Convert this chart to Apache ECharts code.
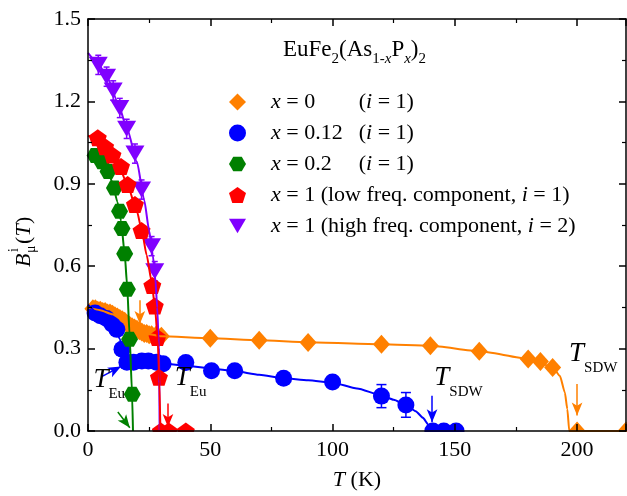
<!DOCTYPE html>
<html>
<head>
<meta charset="utf-8">
<script src="https://cdn.jsdelivr.net/npm/echarts@6/dist/echarts.min.js"></script>
<style>
html,body{margin:0;padding:0;background:#fff}
#chart{width:627px;height:496px}
</style>
</head>
<body>
<div id="chart"></div>
<script>
// x = 0
var orangeT = [2,3,4,5,6,7,8,9,10,11,12,13,14,15,16,17,18,19,20,21,22,23,24,25,26,28,30,50,70,90,120,140,160,180,185,190,200,220];
var orangeB = [0.445,0.445,0.44,0.44,0.435,0.435,0.43,0.43,0.425,0.42,0.415,0.41,0.405,0.4,0.39,0.385,0.38,0.375,0.37,0.365,0.36,0.355,0.355,0.35,0.35,0.35,0.345,0.338,0.33,0.322,0.316,0.31,0.29,0.262,0.253,0.231,0,0];
var orangeFitT = [0,5,10,15,20,25,30,50,70,90,120,140,160,180,190,193,195,196,196.8,220];
var orangeFitB = [0.45,0.44,0.425,0.398,0.37,0.352,0.345,0.338,0.33,0.323,0.316,0.31,0.29,0.263,0.233,0.2,0.14,0.08,0,0];
// x = 0.12
var blueT = [2.9,5,7.6,9.8,11.8,13.9,15.9,18.6,22,24.7,28,30.7,40,50.5,60,80,100,120,130,141,145.5,150.5];
var blueB = [0.43,0.42,0.41,0.39,0.37,0.298,0.25,0.25,0.255,0.255,0.25,0.245,0.249,0.219,0.219,0.192,0.178,0.127,0.095,0,0,0];
var blueErrT = [120,130];
var blueErrB = [0.127,0.095];
var blueErrD = [0.042,0.045];
var blueFitT = [0,4,8,11,13,14.5,16,20,30,40,50,60,70,80,90,100,110,120,125,130,134,137,139,140];
var blueFitB = [0.46,0.43,0.405,0.375,0.335,0.285,0.258,0.252,0.247,0.238,0.228,0.218,0.205,0.192,0.185,0.176,0.155,0.13,0.114,0.095,0.072,0.048,0.025,0];
// x = 0.2
var greenT = [2.9,5.6,8.2,10.8,12.9,13.9,15.0,16.1,17.0,18.1];
var greenB = [1.003,0.98,0.945,0.885,0.80,0.737,0.645,0.516,0.334,0.134];
var greenFitT = [2,4,6,8,10,12,13.5,15,16,17,18,18.4];
var greenFitB = [1.01,1.0,0.978,0.95,0.905,0.835,0.765,0.645,0.53,0.35,0.14,0];
// x = 1, high freq.
var purpleT = [4.2,7.6,10.3,13,15.8,19.2,21.9,26,27.3];
var purpleB = [1.333,1.29,1.24,1.176,1.1,1.01,0.879,0.673,0.582];
var purpleErrD = [0.035,0.035,0.035,0.035,0.035,0.035,0.035,0.035,0.035];
var purpleFitT = [0,4,8,12,16,20,23,25,26.5,27.5,28.3,29,29.3];
var purpleFitB = [1.377,1.34,1.285,1.2,1.1,0.98,0.84,0.73,0.64,0.56,0.45,0.3,0];
// x = 1, low freq.
var redT = [4,7,10,13.5,16.2,19.2,21.9,26.3,27.3,28.4,29,29.8,33,40];
var redB = [1.068,1.035,1.005,0.963,0.897,0.825,0.73,0.53,0.455,0.34,0.196,0,0,0];
var redFitT = [0,4,8,12,16,20,22,24,26,27.5,28.5,29.2,29.6];
var redFitB = [1.075,1.065,1.03,0.98,0.9,0.8,0.73,0.64,0.545,0.44,0.33,0.18,0];

// arrows [from, to] and labels in data coords
var orangeArrows = [[[21.2,0.476],[21.2,0.39]], [[200,0.171],[200,0.056]]];
var blueArrows = [[[6,0.2],[13.5,0.235]], [[140.7,0.128],[140.7,0.032]]];
var greenArrows = [[[12.2,0.069],[17.1,0.012]]];
var redArrows = [[[32.7,0.1],[32.7,0.015]]];
var labelPos = [[2.2,0.156],[35.5,0.163],[141.6,0.163],[196.7,0.25]];
var labelSub = ['Eu','Eu','SDW','SDW'];

var xTicks = {min:0, max:220, interval:50};
var yTicks = {min:0, max:1.5, interval:0.3};

var cOrange = '#FF8000', cBlue = '#0000FF', cGreen = '#008000', cRed = '#FF0000', cPurple = '#8000FF';
var serif = '"Liberation Serif","Times New Roman",serif';

var hexPath = 'path://M-10,0 L-5,-8.66 L5,-8.66 L10,0 L5,8.66 L-5,8.66 Z';
var pentPath = 'path://M0,-10 L9.51,-3.09 L5.88,8.09 L-5.88,8.09 L-9.51,-3.09 Z';
var triPath = 'path://M-10,-6 L10,-6 L0,11 Z';

function pairs(xs, ys, zs) {
    return xs.map(function (x, i) { return zs ? [x, ys[i], zs[i]] : [x, ys[i]]; });
}

function fit(xs, ys, color, arr) {
    var s = {
        type: 'line', data: pairs(xs, ys), symbol: 'none', smooth: 0.2, smoothMonotone: 'x',
        lineStyle: {color: color, width: 2}, silent: true, animation: false
    };
    if (arr) {
        s.markLine = {
            silent: true, animation: false, symbol: ['none', 'arrow'], symbolSize: [8, 13],
            lineStyle: {color: color, width: 1.5, type: 'solid'}, label: {show: false},
            data: arr.map(function (a) { return [{coord: a[0]}, {coord: a[1]}]; })
        };
    }
    return s;
}

function points(name, xs, ys, color, symbol, size) {
    return {
        type: 'scatter', name: name, data: pairs(xs, ys), symbol: symbol, symbolSize: size,
        itemStyle: {color: color, opacity: 1}, animation: false, silent: true
    };
}

function errBars(xs, ys, ds, color, cap) {
    return {
        type: 'custom', data: pairs(xs, ys, ds), encode: {x: 0, y: 1}, silent: true, animation: false,
        renderItem: function (params, api) {
            var x = api.value(0), y = api.value(1), e = api.value(2);
            var p1 = api.coord([x, y + e]), p2 = api.coord([x, y - e]);
            var st = {stroke: color, lineWidth: 1.5};
            return {type: 'group', children: [
                {type: 'line', shape: {x1: p1[0], y1: p1[1], x2: p2[0], y2: p2[1]}, style: st},
                {type: 'line', shape: {x1: p1[0] - cap, y1: p1[1], x2: p1[0] + cap, y2: p1[1]}, style: st},
                {type: 'line', shape: {x1: p2[0] - cap, y1: p2[1], x2: p2[0] + cap, y2: p2[1]}, style: st}
            ]};
        }
    };
}

function axis(type, pos, show, t) {
    return {
        type: 'value', position: pos, min: t.min, max: t.max, interval: t.interval, z: 10,
        axisLine: {show: true, onZero: false, lineStyle: {color: '#000', width: 1.5}},
        axisTick: {show: true, inside: true, length: 7, lineStyle: {color: '#000', width: 1.5}},
        minorTick: {show: true, splitNumber: 2, length: 4, lineStyle: {color: '#000', width: 1.2}},
        splitLine: {show: false},
        axisLabel: {show: show, color: '#000', fontFamily: serif, fontSize: 22, margin: type === 'x' ? 8 : 7,
            showMaxLabel: type === 'y',
            formatter: type === 'x' ? '{value}' : function (v) { return v.toFixed(1); }}
    };
}

var legendText = {
    x0: '{sp| }{i|x}{c| = 0}{n|(}{i|i}{n| = 1)}',
    x012: '{sp| }{i|x}{c| = 0.12}{n|(}{i|i}{n| = 1)}',
    x02: '{sp| }{i|x}{c| = 0.2}{n|(}{i|i}{n| = 1)}',
    x1low: '{sp| }{i|x}{n| = 1 (low freq. component, }{i|i}{n| = 1)}',
    x1high: '{sp| }{i|x}{n| = 1 (high freq. component, }{i|i}{n| = 2)}'
};

var xBottom = axis('x', 'bottom', true, xTicks);
xBottom.name = '{i|T} (K)';
xBottom.nameLocation = 'middle';
xBottom.nameGap = 38;
xBottom.nameTextStyle = {color: '#000', fontFamily: serif, fontSize: 22,
    rich: {i: {fontFamily: serif, fontSize: 22, fontStyle: 'italic', color: '#000'}}};

var chart = echarts.init(document.getElementById('chart'));
chart.setOption({
    animation: false,
    grid: {left: 88, right: 1, top: 19, bottom: 64},
    xAxis: [xBottom, axis('x', 'top', false, xTicks)],
    yAxis: [axis('y', 'left', true, yTicks), axis('y', 'right', false, yTicks)],
    legend: {
        orient: 'vertical', left: 224, top: 86, itemWidth: 17, itemHeight: 17, itemGap: 9,
        selectedMode: false, data: ['x0', 'x012', 'x02', 'x1low', 'x1high'],
        formatter: function (name) { return legendText[name]; },
        textStyle: {color: '#000', fontFamily: serif, fontSize: 22, rich: {
            sp: {width: 20},
            i: {fontFamily: serif, fontSize: 22, fontStyle: 'italic', color: '#000', lineHeight: 22},
            n: {fontFamily: serif, fontSize: 22, color: '#000', lineHeight: 22},
            c: {fontFamily: serif, fontSize: 22, color: '#000', lineHeight: 22, width: 78}
        }}
    },
    series: [
        fit(orangeFitT, orangeFitB, cOrange, orangeArrows),
        points('x0', orangeT, orangeB, cOrange, 'diamond', [17, 19]),
        fit(blueFitT, blueFitB, cBlue, blueArrows),
        errBars(blueErrT, blueErrB, blueErrD, cBlue, 5),
        points('x012', blueT, blueB, cBlue, 'circle', 17),
        fit(greenFitT, greenFitB, cGreen, greenArrows),
        points('x02', greenT, greenB, cGreen, hexPath, [17, 15]),
        fit(purpleFitT, purpleFitB, cPurple),
        errBars(purpleT, purpleB, purpleErrD, cPurple, 3),
        points('x1high', purpleT, purpleB, cPurple, triPath, [19, 16]),
        fit(redFitT, redFitB, cRed, redArrows),
        points('x1low', redT, redB, cRed, pentPath, [18, 17])
    ]
});

function px(p) { return chart.convertToPixel({xAxisIndex: 0, yAxisIndex: 0}, p); }

var origin = px([0, 0]);
var corner = px([220, 0]);
var txt = function (t, size, italic, x, y) {
    return {type: 'text', x: x, y: y, style: {text: t, fontFamily: serif, fontSize: size,
        fontStyle: italic ? 'italic' : 'normal', fill: '#000', align: 'left', verticalAlign: 'middle'}};
};

var graphics = [
    // hide the part of the markers that falls below the x axis
    {type: 'rect', z: 5, shape: {x: origin[0] + 1, y: origin[1] + 1, width: corner[0] - origin[0] + 20, height: 12},
        style: {fill: '#fff'}},
    {type: 'text', z: 6, left: 283, top: 38, style: {
        text: '{m|EuFe}{s|2}{m|(As}{s|1-}{si|x}{m|P}{si|x}{m|)}{s|2}', fill: '#000',
        rich: {
            m: {fontFamily: serif, fontSize: 23, lineHeight: 23, padding: [0, 0, 6, 0], verticalAlign: 'bottom'},
            s: {fontFamily: serif, fontSize: 15, lineHeight: 15, verticalAlign: 'bottom'},
            si: {fontFamily: serif, fontSize: 15, lineHeight: 15, fontStyle: 'italic', verticalAlign: 'bottom'}
        }}},
    {type: 'group', x: 24, y: 267, rotation: Math.PI / 2, z: 6, children: [
        txt('B', 22, true, 0, 0),
        txt('\u03bc', 14, false, 14, 7),
        txt('i', 14, false, 15, -10),
        txt('(', 22, false, 23, 0),
        txt('T', 22, true, 30.5, 0),
        txt(')', 22, false, 43, 0)
    ]}
];
labelPos.forEach(function (p, k) {
    var q = px(p);
    graphics.push({type: 'text', z: 6, x: q[0], y: q[1], style: {
        text: '{t|T}{s|' + labelSub[k] + '}', fill: '#000', verticalAlign: 'middle',
        rich: {
            t: {fontFamily: serif, fontSize: 27, fontStyle: 'italic', lineHeight: 27, padding: [0, 0, 8, 0], verticalAlign: 'bottom'},
            s: {fontFamily: serif, fontSize: 15, lineHeight: 15, verticalAlign: 'bottom'}
        }}});
});
chart.setOption({graphic: graphics});
</script>
</body>
</html>
